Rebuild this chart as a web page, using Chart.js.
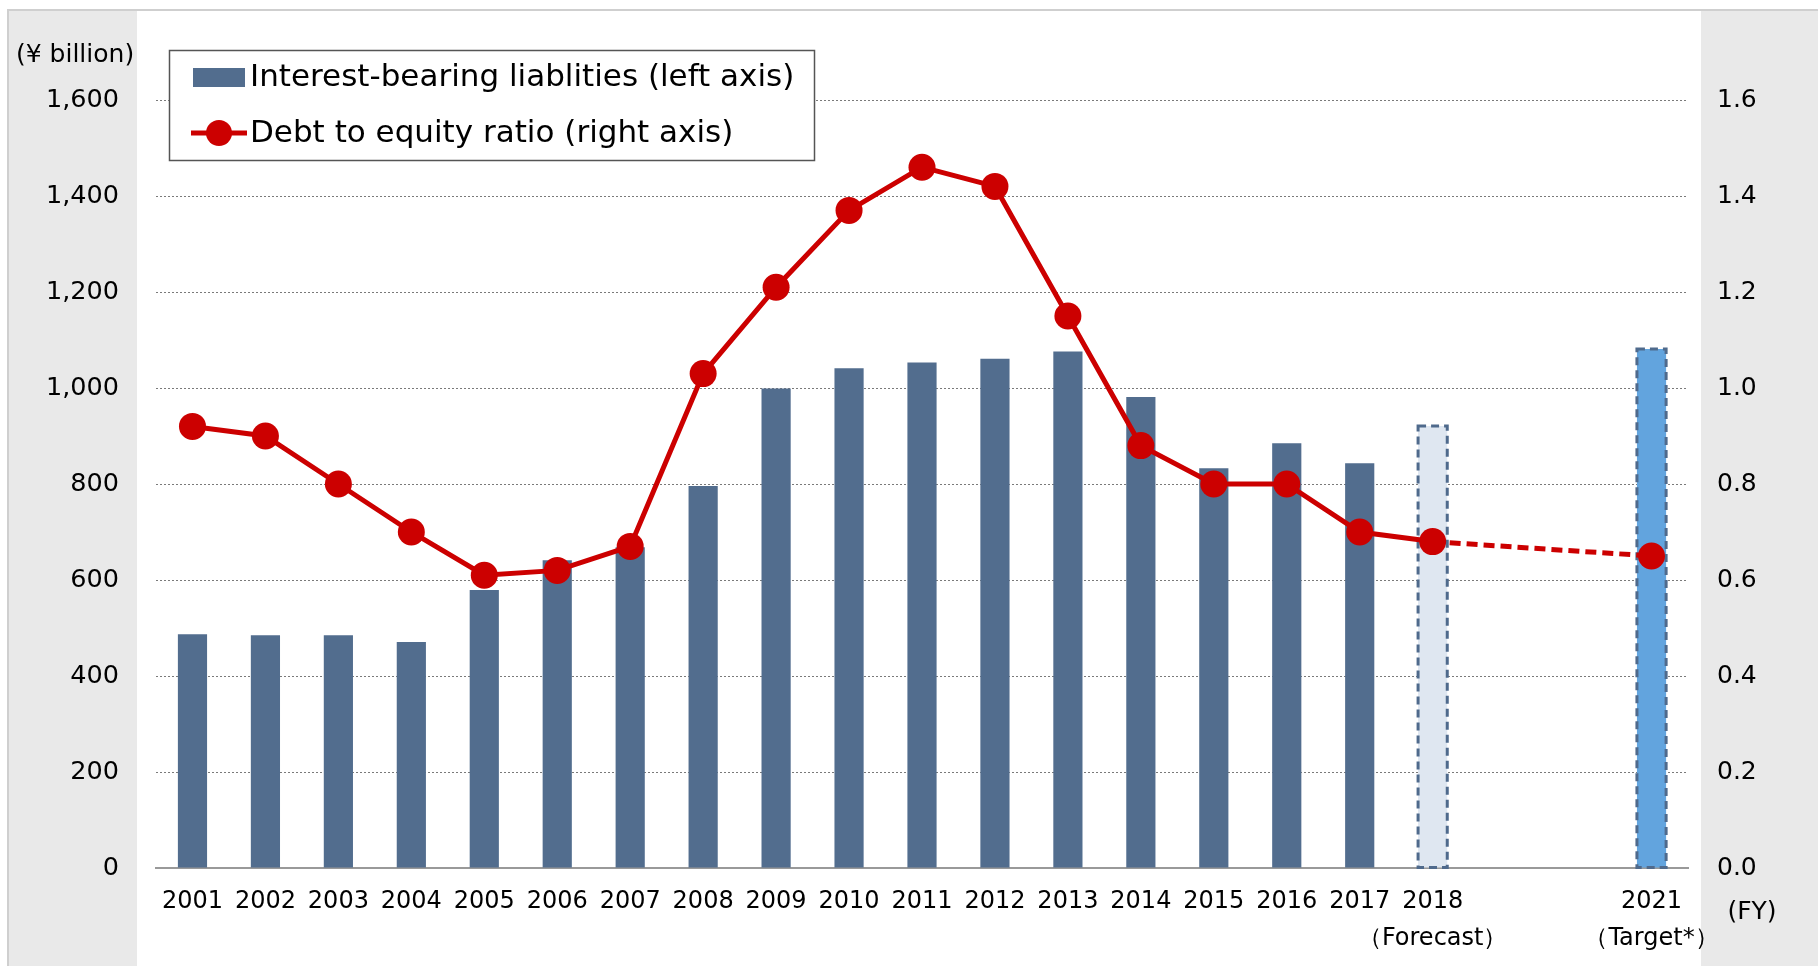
<!DOCTYPE html>
<html>
<head>
<meta charset="utf-8">
<script src="https://cdn.jsdelivr.net/npm/chart.js@4"></script>
<style>
  body { margin: 0; background: #fff; }
  #wrap { position: relative; width: 1818px; height: 966px; }
</style>
</head>
<body>
<div id="wrap"><canvas id="debtChart" width="1818" height="966"></canvas></div>
<script>
// fiscal years (2019 and 2020 are empty slots in the original)
const years = ['2001', '2002', '2003', '2004', '2005', '2006', '2007', '2008', '2009', '2010',
  '2011', '2012', '2013', '2014', '2015', '2016', '2017', ['2018', '（Forecast）'], '', '', ['2021', '（Target*）']]

// interest-bearing liabilities, ¥ billion
const liabilities = [487, 485, 485, 471, 579, 641, 668, 796, 999, 1041,
  1053, 1061, 1076, 981, 833, 885, 843, 921, null, null, 1081]

// debt to equity ratio
const deRatio = [0.92, 0.90, 0.80, 0.70, 0.61, 0.62, 0.67, 1.03, 1.21, 1.37,
  1.46, 1.42, 1.15, 0.88, 0.80, 0.80, 0.70, 0.68, null, null, 0.65]

const leftTicks = [0, 200, 400, 600, 800, 1000, 1200, 1400, 1600]
const rightTicks = [0, 0.2, 0.4, 0.6, 0.8, 1.0, 1.2, 1.4, 1.6]

const FORECAST = 17
const TARGET = 20
const barBlue = '#526d8e'
const red = '#cc0000'
const font = '"DejaVu Sans", Verdana, sans-serif'

const barColors = liabilities.map((v, i) => {
  if (i === FORECAST) return '#dfe7f1'
  if (i === TARGET) return '#62a4de'
  return barBlue
})

// frame, gray side strips, unit labels and the boxed legend
const decor = {
  id: 'decor',
  beforeDraw(chart) {
    const c = chart.ctx
    c.save()
    c.fillStyle = '#fff'
    c.fillRect(0, 0, chart.width, chart.height)
    c.fillStyle = '#e9e9e9'
    c.fillRect(9, 11, 128, 955)
    c.fillRect(1701, 11, 117, 955)
    c.fillStyle = '#cfcfcf'
    c.fillRect(7, 9, 1811, 2)
    c.fillRect(7, 9, 2, 957)
    c.restore()
  },
  afterDatasetDraw(chart, args) {
    // dashed outline on forecast / target bars
    if (args.index !== 1) return
    const c = chart.ctx
    c.save()
    c.strokeStyle = '#4f6a8c'
    c.lineWidth = 3
    c.setLineDash([8, 5])
    ;[FORECAST, TARGET].forEach(i => {
      const bar = args.meta.data[i]
      if (!bar) return
      const p = bar.getProps(['x', 'y', 'base', 'width'], true)
      c.strokeRect(p.x - p.width / 2, p.y, p.width, p.base - p.y)
    })
    c.restore()
  },
  afterDraw(chart) {
    const c = chart.ctx
    const ds = chart.data.datasets
    c.save()
    c.fillStyle = '#000'
    c.textBaseline = 'middle'
    c.font = '25px ' + font
    c.textAlign = 'left'
    c.fillText('(¥ billion)', 16, 55)
    c.textAlign = 'center'
    c.fillText('(FY)', 1752, 912)

    // legend box
    c.fillStyle = '#fff'
    c.fillRect(169, 50, 645, 110)
    c.strokeStyle = '#555'
    c.lineWidth = 1.5
    c.strokeRect(169.5, 50.5, 645, 110)

    c.fillStyle = barBlue
    c.fillRect(193, 68, 52, 19)
    c.strokeStyle = red
    c.lineWidth = 5
    c.beginPath()
    c.moveTo(191, 133)
    c.lineTo(247, 133)
    c.stroke()
    c.fillStyle = red
    c.beginPath()
    c.arc(219, 133, 13, 0, Math.PI * 2)
    c.fill()

    c.fillStyle = '#000'
    c.textAlign = 'left'
    c.font = '31px ' + font
    c.fillText(ds[1].label, 250, 78)
    c.fillText(ds[0].label, 250, 134)
    c.restore()
  }
}

new Chart(document.getElementById('debtChart'), {
  type: 'bar',
  data: {
    labels: years,
    datasets: [
      {
        type: 'line',
        label: 'Debt to equity ratio (right axis)',
        data: deRatio,
        yAxisID: 'yRight',
        order: 0,
        borderColor: red,
        borderWidth: 5,
        pointRadius: 13.5,
        pointBackgroundColor: red,
        pointBorderWidth: 0,
        tension: 0,
        spanGaps: true,
        segment: {
          borderDash: ctx => ctx.p0DataIndex >= FORECAST ? [11, 6] : undefined
        }
      },
      {
        type: 'bar',
        label: 'Interest-bearing liablities (left axis)',
        data: liabilities,
        yAxisID: 'yLeft',
        order: 1,
        backgroundColor: barColors,
        borderWidth: 0,
        barPercentage: 0.4,
        categoryPercentage: 1
      }
    ]
  },
  options: {
    responsive: false,
    animation: false,
    layout: { padding: { top: 100, left: 0, right: 0, bottom: 0 } },
    plugins: {
      legend: { display: false },
      tooltip: { enabled: false }
    },
    scales: {
      x: {
        grid: { color: 'rgba(0,0,0,0)', drawTicks: false },
        border: { display: true, color: '#999', width: 2 },
        ticks: {
          color: '#000',
          autoSkip: false,
          maxRotation: 0,
          padding: 15,
          font: { family: font, size: 24, lineHeight: 1.55 }
        },
        afterFit(scale) { scale.height = 98 }
      },
      yLeft: {
        position: 'left',
        min: leftTicks[0],
        max: leftTicks[leftTicks.length - 1],
        grid: { color: '#7a7a7a', lineWidth: 1, drawTicks: false },
        border: { display: false, dash: [2, 2] },
        ticks: {
          stepSize: leftTicks[1] - leftTicks[0],
          color: '#000',
          padding: 37,
          font: { family: font, size: 25.5 },
          callback: v => v.toLocaleString('en-US')
        },
        afterFit(scale) { scale.width = 156 }
      },
      yRight: {
        position: 'right',
        min: rightTicks[0],
        max: rightTicks[rightTicks.length - 1],
        grid: { display: false, drawTicks: false },
        border: { display: false },
        ticks: {
          stepSize: rightTicks[1] - rightTicks[0],
          color: '#000',
          padding: 29,
          font: { family: font, size: 25 },
          callback: v => v.toFixed(1)
        },
        afterFit(scale) { scale.width = 130 }
      }
    }
  },
  plugins: [decor]
})
</script>
</body>
</html>
